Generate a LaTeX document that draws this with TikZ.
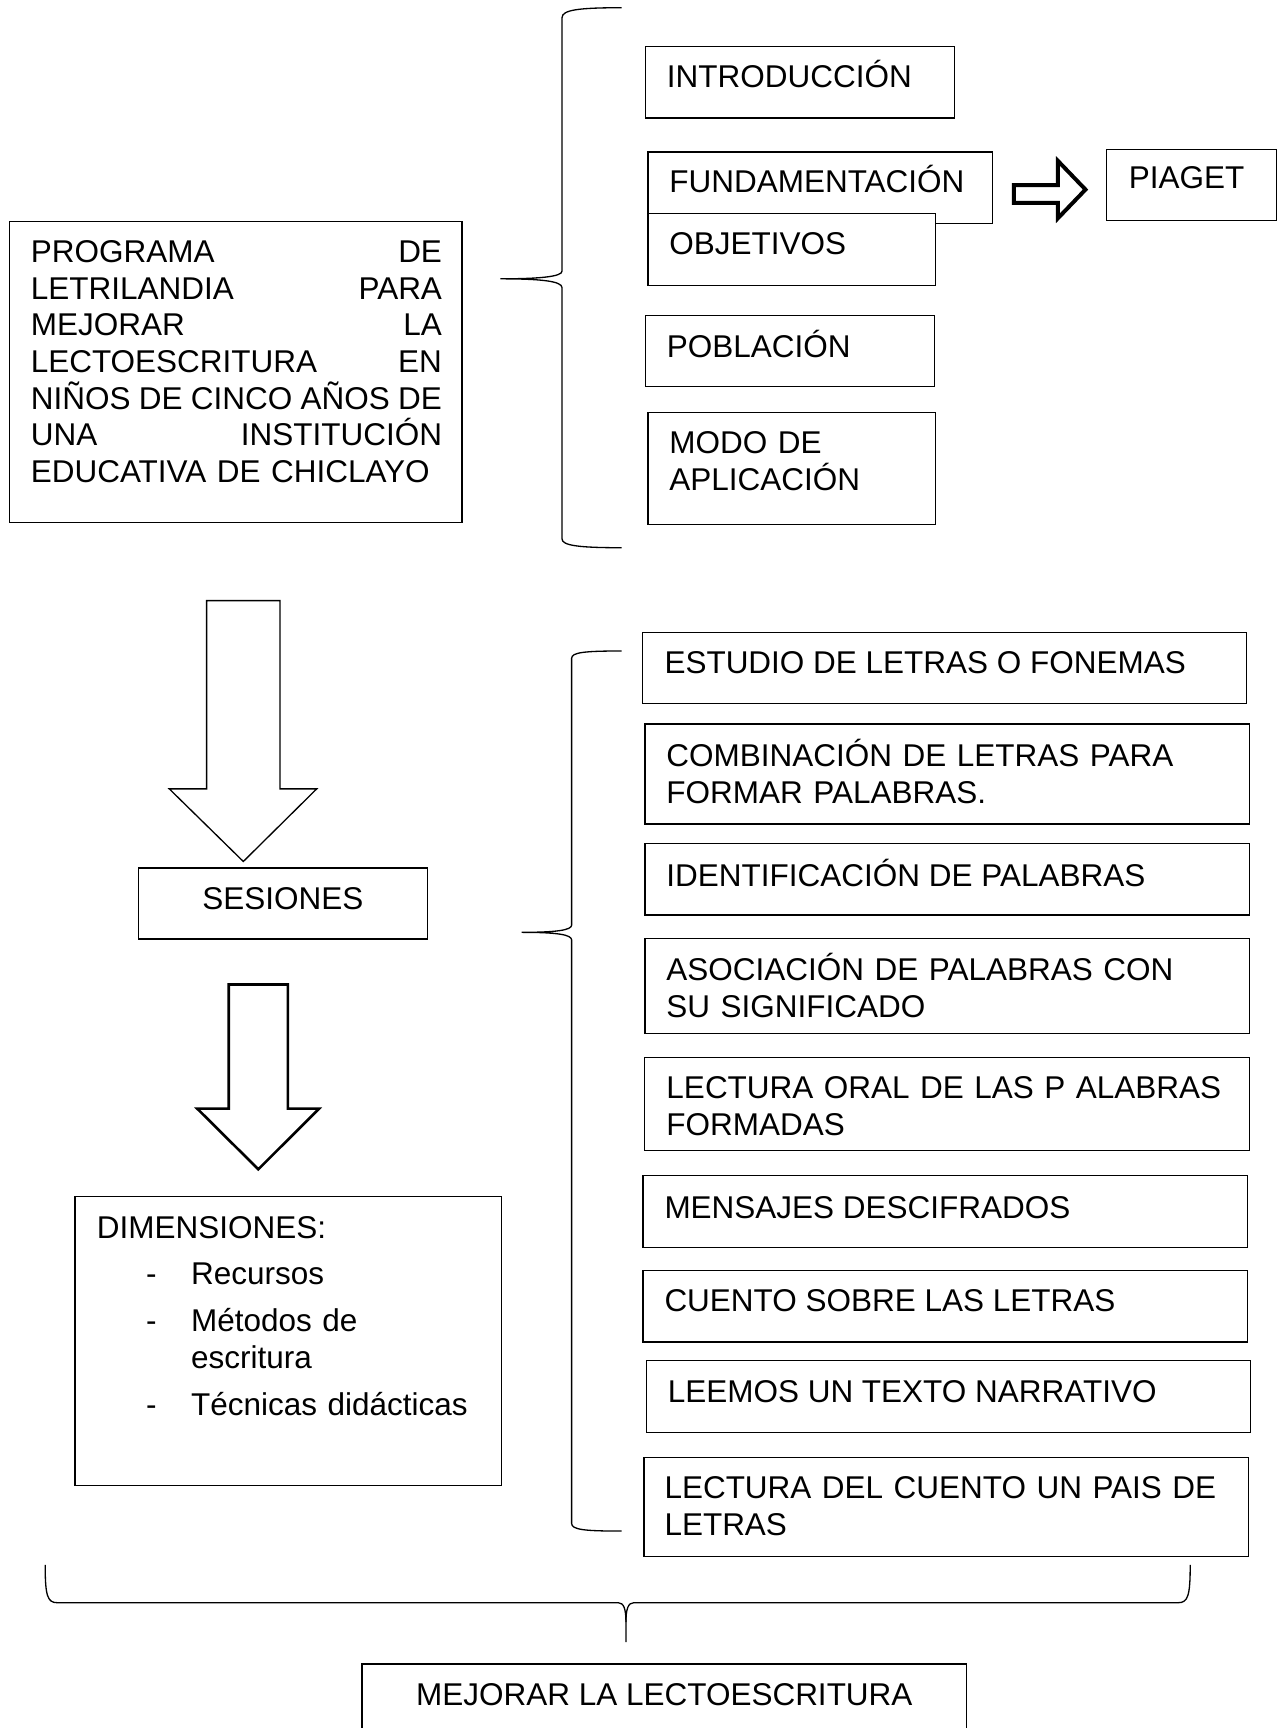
\documentclass[tikz,border=0pt]{standalone}
\usepackage{fontspec}
\setmainfont{Liberation Sans}
\usetikzlibrary{fit}

\tikzset{
  box/.style={draw, line width=0.5pt, inner sep=0pt, fill=white},
  lbl/.style={inner sep=0pt, anchor=base west, font=\fontsize{12}{14}\selectfont},
  lbls/.style={lbl, text width=#1, align=left},
  brace/.style={line width=0.5pt},
}

\begin{document}
\begin{tikzpicture}[x=0.42pt, y=-0.42pt]
\useasboundingbox (0,0) rectangle (1163.3,1568);

% programa
\node[box, fit={(8.9,200.7) (419.2,474)}] (prog) {};
\node[lbls=156.7pt] (prog-t) at (27.5,238) {%
PROGRAMA\hfill DE\\
LETRILANDIA\hfill PARA\\
MEJORAR\hfill LA\\
LECTOESCRITURA\hfill EN\\
NIÑOS\hfill DE\hfill CINCO\hfill AÑOS\hfill DE\\
UNA\hfill INSTITUCIÓN\\
EDUCATIVA DE CHICLAYO};

\draw[brace] (564,7) .. controls (525,7) and (510,9) .. (510,16) -- (510,246)
  .. controls (510,251) and (490,253) .. (454,253)
  .. controls (490,253) and (510,255) .. (510,261) -- (510,489)
  .. controls (510,495) and (525,497) .. (564,497);

% partes del programa
\node[box, fit={(586,42.4) (866,107)}] (intro) {};
\node[lbl] (intro-t) at (604.7,79.2) {INTRODUCCIÓN};
\node[box, fit={(588,138) (900.4,203)}] (fund) {};
\node[lbl] (fund-t) at (606.9,174.7) {FUNDAMENTACIÓN};
\node[box, fit={(588,194) (849,259)}] (obj) {};
\node[lbl] (obj-t) at (606.9,231) {OBJETIVOS};
\node[box, fit={(1004,135.5) (1158,200.3)}] (piaget) {};
\node[lbl] (piaget-t) at (1023.8,171) {PIAGET};
\node[box, fit={(586,286) (848,351)}] (pob) {};
\node[lbl] (pob-t) at (604.7,324) {POBLACIÓN};
\node[box, fit={(588,374) (849,476)}] (modo) {};
\node[lbls=150pt] (modo-t) at (606.9,411.5) {MODO DE\\ APLICACIÓN};

\draw[line width=1.5pt, line join=miter] (920,168) -- (960,168) -- (960,146) -- (985,172)
  -- (960,198) -- (960,184) -- (920,184) -- cycle;

% sesiones
\draw[line width=0.5pt] (187.5,545) -- (254,545) -- (254,715.8) -- (287.4,715.8)
  -- (220.8,781.7) -- (153.6,715.8) -- (187.5,715.8) -- cycle;
\node[box, fit={(125.5,787.5) (387.8,852)}] (ses) {};
\node[lbl, anchor=base] (ses-t) at (256.6,825) {SESIONES};
\draw[line width=1pt, line join=miter] (207.6,893.3) -- (261.2,893.3) -- (261.2,1006) -- (289.5,1006)
  -- (234.4,1061) -- (179,1006) -- (207.6,1006) -- cycle;

% dimensiones
\node[box, fit={(68,1086) (455,1348)}] (dim) {};
\node[lbls=170pt] (dim-t) at (87.5,1123.5) {%
DIMENSIONES:\\[3.8pt]
\hspace*{18.7pt}\makebox[17.2pt][l]{-}Recursos\\[3.8pt]
\hspace*{18.7pt}\makebox[17.2pt][l]{-}Métodos de\\
\hspace*{35.9pt}escritura\\[3.8pt]
\hspace*{18.7pt}\makebox[17.2pt][l]{-}Técnicas didácticas};

\draw[brace] (564.1,590.7) .. controls (530,590.7) and (518.7,592) .. (518.7,597.4) -- (518.7,839.4)
  .. controls (518.7,844) and (505,846) .. (473.4,846)
  .. controls (505,846) and (518.7,848) .. (518.7,852.9) -- (518.7,1382.3)
  .. controls (518.7,1388) and (530,1389.3) .. (564.1,1389.3);

% sesiones de aprendizaje
\node[box, fit={(582.9,573.8) (1131,638.5)}] (est) {};
\node[lbl] (est-t) at (602.5,611) {ESTUDIO DE LETRAS O FONEMAS};
\node[box, fit={(585.3,657) (1134,747.7)}] (comb) {};
\node[lbls=240pt] (comb-t) at (604.3,695.7) {COMBINACIÓN DE LETRAS PARA\\ FORMAR PALABRAS.};
\node[box, fit={(585.3,765.2) (1134,830.3)}] (ident) {};
\node[lbl] (ident-t) at (604.3,804) {IDENTIFICACIÓN DE PALABRAS};
\node[box, fit={(585.3,851.4) (1134,937.6)}] (asoc) {};
\node[lbls=240pt] (asoc-t) at (604.3,890) {ASOCIACIÓN DE PALABRAS CON\\ SU SIGNIFICADO};
\node[box, fit={(584.7,959.7) (1134,1044.1)}] (oral) {};
\node[lbls=240pt] (oral-t) at (604.3,996.7) {LECTURA ORAL DE LAS P ALABRAS\\ FORMADAS};
\node[box, fit={(583.5,1066.8) (1132,1132.2)}] (mens) {};
\node[lbl] (mens-t) at (602.5,1105.5) {MENSAJES DESCIFRADOS};
\node[box, fit={(583.5,1153) (1132,1217.7)}] (cuento) {};
\node[lbl] (cuento-t) at (602.5,1190.2) {CUENTO SOBRE LAS LETRAS};
\node[box, fit={(586.5,1234.4) (1135,1299.7)}] (leemos) {};
\node[lbl] (leemos-t) at (605.5,1272.5) {LEEMOS UN TEXTO NARRATIVO};
\node[box, fit={(584.4,1322.7) (1133,1412.5)}] (pais) {};
\node[lbls=240pt] (pais-t) at (602.5,1359.6) {LECTURA DEL CUENTO UN PAIS DE\\ LETRAS};

% resultado
\draw[brace] (41,1420) .. controls (41,1448) and (43,1454.3) .. (52,1454.3) -- (561,1454.3)
  .. controls (566,1454.3) and (568,1460) .. (568,1472) -- (568,1490);
\draw[brace] (1080,1420) .. controls (1080,1448) and (1078,1454.3) .. (1069,1454.3) -- (575,1454.3)
  .. controls (570,1454.3) and (568,1460) .. (568,1472);
\node[box, fit={(328.6,1510) (877,1600)}] (mejora) {};
\node[lbl, anchor=base] (mejora-t) at (602.8,1547.6) {MEJORAR LA LECTOESCRITURA};
\end{tikzpicture}
\end{document}
